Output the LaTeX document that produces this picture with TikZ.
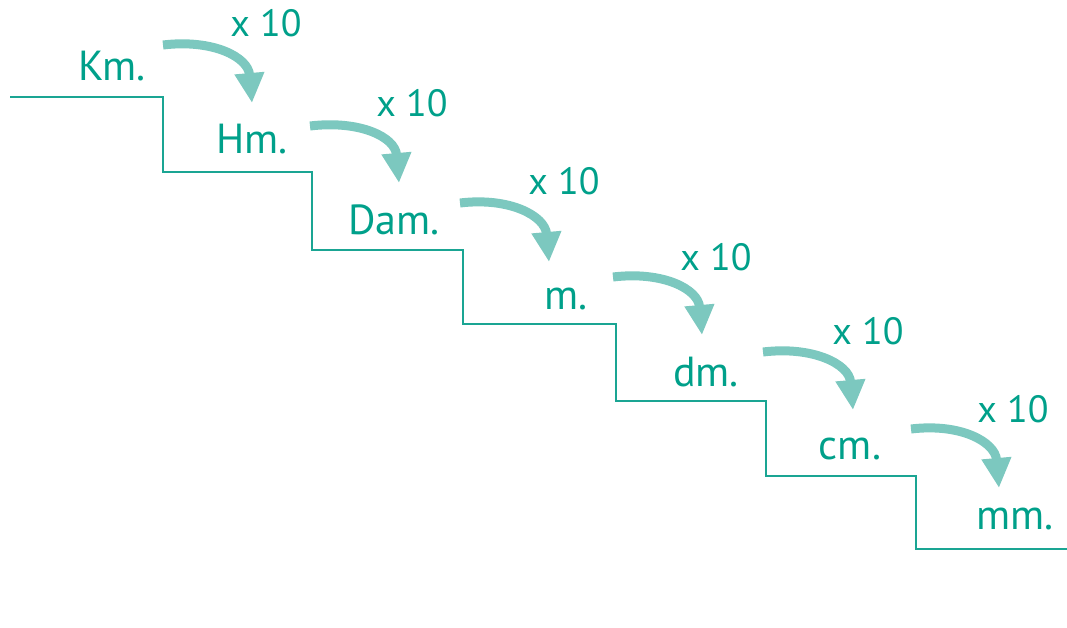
\documentclass[tikz,border=0pt]{standalone}
\usepackage{fontspec}
\setmainfont{PT Sans}
\usetikzlibrary{arrows.meta,calc}
\definecolor{txtcol}{HTML}{00A08A}
\definecolor{linecol}{HTML}{1AA593}
\definecolor{arrcol}{HTML}{7CC8BF}
\begin{document}
\begin{tikzpicture}[x=1pt,y=-1pt,
  unit/.style={text=txtcol,font=\fontsize{42}{42}\selectfont,anchor=base,inner sep=0pt},
  times/.style={text=txtcol,font=\fontsize{38}{38}\selectfont,anchor=base,inner sep=0pt},
  stair/.style={draw=linecol,line width=1.6pt},
  jump/.style={draw=arrcol,line width=9pt,-{Triangle[width=28pt,length=30pt]}}]
\useasboundingbox (0,0) rectangle (1067,628);
% staircase
\coordinate (s0) at (10,97);
\coordinate (s1) at (1067,549);
\draw[stair] (s0) -- (163,97) -- (163,172) -- (312,172) -- (312,250) -- (463,250) -- (463,324)
  -- (616,324) -- (616,401) -- (766,401) -- (766,476) -- (916,476) -- (916,549) -- (s1);
% units
\node[unit] (km) at (112,81) {Km.};
\node[unit] (hm) at (252,154) {Hm.};
\node[unit] (dam) at (394,235) {Dam.};
\node[unit] (m) at (566,309) {m.};
\node[unit] (dm) at (706,386) {dm.};
\node[unit] (cm) at (850,459) {cm.};
\node[unit] (mm) at (1015,529) {mm.};
% x 10 labels
\node[times] (t1) at (266,37) {x 10};
\node[times] (t2) at (412,117) {x 10};
\node[times] (t3) at (564,195) {x 10};
\node[times] (t4) at (716,270) {x 10};
\node[times] (t5) at (868,344) {x 10};
\node[times] (t6) at (1013,422) {x 10};
% arrows
\foreach \sx/\sy/\ex/\ey in {163/45/252/103, 310/126/399/183, 460/203/549/262, 613/277/702/335, 763/352/853/410, 911/429/999/488}{
  \coordinate (a) at (\sx,\sy);
  \coordinate (b) at (\ex,\ey);
  \draw[jump] (a) .. controls ($(a)+(50,-6)$) and ($(b)+(-4,-46)$) .. (b);
}
\end{tikzpicture}
\end{document}
